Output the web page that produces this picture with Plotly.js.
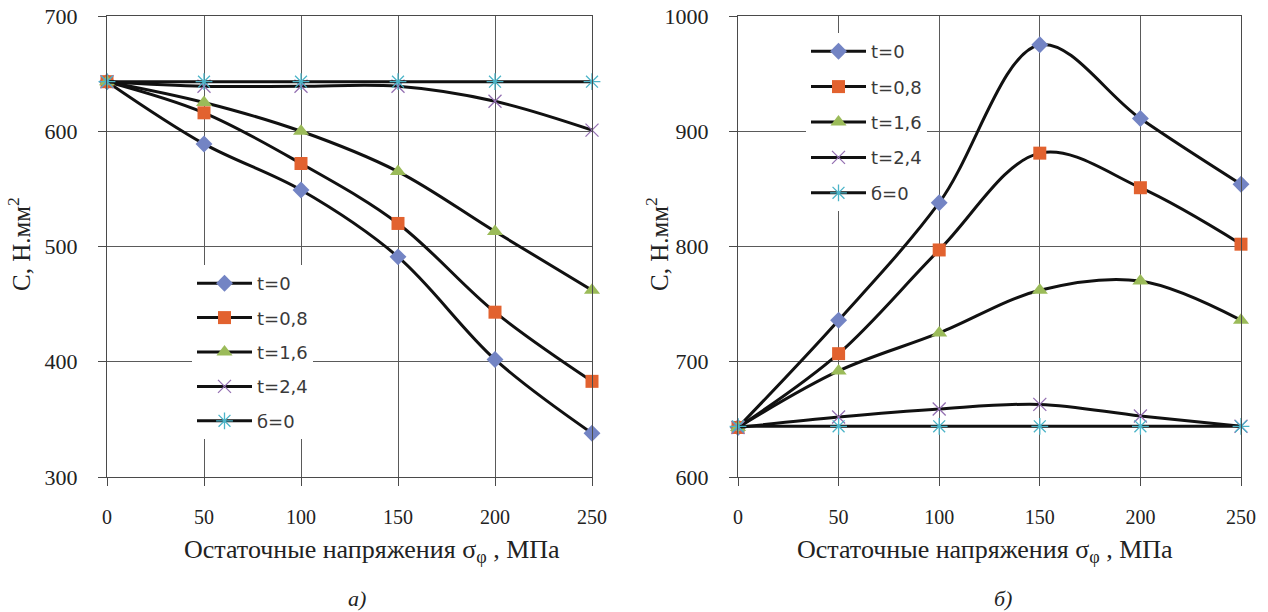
<!DOCTYPE html>
<html>
<head>
<meta charset="utf-8">
<script src="https://cdn.plot.ly/plotly-3.0.1.min.js"></script>
<style>html,body{margin:0;padding:0;background:#fff;}#chart{width:1268px;height:612px;}</style>
</head>
<body>
<div id="chart"></div>
<script>
// ---- data ----
const sigma = [0, 50, 100, 150, 200, 250];
const seriesNames = ["t=0", "t=0,8", "t=1,6", "t=2,4", "б=0"];

// panel а)
const a_t0  = [643, 589, 549, 491, 402, 338];
const a_t08 = [643, 616, 572, 520, 443, 383];
const a_t16 = [643, 625, 600, 565, 513, 462];
const a_t24 = [643, 639, 639, 639, 626, 601];
const a_s0  = [643, 643, 643, 643, 643, 643];

// panel б)
const b_t0  = [643, 736, 838, 975, 911, 854];
const b_t08 = [643, 707, 797, 881, 851, 802];
const b_t16 = [643, 692, 725, 762, 770, 736];
const b_t24 = [643, 652, 659, 663, 653, 644];
const b_s0  = [644, 644, 644, 644, 644, 644];

const yTicksA = [300, 400, 500, 600, 700];
const yTicksB = [600, 700, 800, 900, 1000];
const xTicks = [0, 50, 100, 150, 200, 250];

// ---- styles ----
const markerStyles = [
  {symbol: "diamond", size: 13, color: "#7384C4", line: {width: 0}},
  {symbol: "square", size: 13, color: "#E2622F", line: {width: 0}},
  {symbol: "triangle-up", size: 14, color: "#9BBB59", line: {width: 0}},
  {symbol: "x-thin-open", size: 13, color: "#9470B2", line: {width: 1.3, color: "#9470B2"}},
  {symbol: "asterisk-open", size: 14, color: "#4BB4C8", line: {width: 1.3, color: "#4BB4C8"}}
];

function mk(y, i, xa, ya, leg, grp) {
  return {
    x: sigma, y: y, xaxis: xa, yaxis: ya,
    type: "scatter", mode: "lines+markers", cliponaxis: false,
    name: seriesNames[i],
    legend: leg, legendgroup: grp + i,
    line: {color: "#111", width: 3, shape: "spline", smoothing: 1},
    marker: markerStyles[i]
  };
}

const dataA = [a_t0, a_t08, a_t16, a_t24, a_s0];
const dataB = [b_t0, b_t08, b_t16, b_t24, b_s0];
const traces = [];
dataA.forEach((y, i) => traces.push(mk(y, i, "x", "y", "legend", "a")));
dataB.forEach((y, i) => traces.push(mk(y, i, "x2", "y2", "legend2", "b")));

const W = 1268, T = 16, B = 135, H = 612;
const ph = H - T - B;
const px = v => v / W;
const py = v => (H - B - v) / ph;

const serif = "Liberation Serif, Times New Roman, serif";
const axisCommon = {
  showgrid: true, gridcolor: "#5a5a5a", gridwidth: 1,
  showline: true, mirror: true, linecolor: "#4a4a4a", linewidth: 1,
  ticks: "outside", ticklen: 8, tickcolor: "#4a4a4a", tickwidth: 1,
  zeroline: false, fixedrange: true
};

const layout = {
  width: W, height: H,
  margin: {l: 0, r: 0, t: T, b: B},
  paper_bgcolor: "#fff", plot_bgcolor: "#fff",
  showlegend: true,
  xaxis: Object.assign({}, axisCommon, {
    domain: [px(107), px(592)], range: [0, 250], tickvals: xTicks,
    tickfont: {family: serif, size: 20, color: "#222"}, ticklabelstandoff: 14, anchor: "y"
  }),
  yaxis: Object.assign({}, axisCommon, {
    domain: [0, 1], range: [300, 700], tickvals: yTicksA,
    tickfont: {family: serif, size: 22, color: "#222"}, ticklabelstandoff: 16, anchor: "x"
  }),
  xaxis2: Object.assign({}, axisCommon, {
    domain: [px(738), px(1241)], range: [0, 250], tickvals: xTicks,
    tickfont: {family: serif, size: 20, color: "#222"}, ticklabelstandoff: 14, anchor: "y2"
  }),
  yaxis2: Object.assign({}, axisCommon, {
    domain: [0, 1], range: [600, 1000], tickvals: yTicksB,
    tickfont: {family: serif, size: 22, color: "#222"}, ticklabelstandoff: 16, anchor: "x2"
  }),
  legend: {
    x: px(192), y: py(265), xanchor: "left", yanchor: "top",
    bgcolor: "#fff", borderwidth: 0, itemwidth: 55,
    traceorder: "grouped", tracegroupgap: 8,
    font: {family: "DejaVu Sans", size: 18, color: "#3a3a3a"}
  },
  legend2: {
    x: px(806), y: py(33), xanchor: "left", yanchor: "top",
    bgcolor: "#fff", borderwidth: 0, itemwidth: 55,
    traceorder: "grouped", tracegroupgap: 9,
    font: {family: "DejaVu Sans", size: 18, color: "#3a3a3a"}
  },
  annotations: [
    {text: "Остаточные напряжения σ<sub>φ</sub> , МПа", xref: "paper", yref: "paper",
     x: px(372), y: py(551), xanchor: "center", yanchor: "middle", showarrow: false,
     font: {family: serif, size: 26, color: "#222"}},
    {text: "Остаточные напряжения σ<sub>φ</sub> , МПа", xref: "paper", yref: "paper",
     x: px(985), y: py(551), xanchor: "center", yanchor: "middle", showarrow: false,
     font: {family: serif, size: 26, color: "#222"}},
    {text: "С, Н.мм<sup>2</sup>", xref: "paper", yref: "paper", textangle: -90,
     x: px(19), y: py(244), xanchor: "center", yanchor: "middle", showarrow: false,
     font: {family: serif, size: 25, color: "#222"}},
    {text: "С, Н.мм<sup>2</sup>", xref: "paper", yref: "paper", textangle: -90,
     x: px(657), y: py(244), xanchor: "center", yanchor: "middle", showarrow: false,
     font: {family: serif, size: 25, color: "#222"}},
    {text: "<i>а)</i>", xref: "paper", yref: "paper",
     x: px(357), y: py(598), xanchor: "center", yanchor: "middle", showarrow: false,
     font: {family: serif, size: 22, color: "#222"}},
    {text: "<i>б)</i>", xref: "paper", yref: "paper",
     x: px(1003), y: py(598), xanchor: "center", yanchor: "middle", showarrow: false,
     font: {family: serif, size: 22, color: "#222"}}
  ]
};

Plotly.newPlot("chart", traces, layout, {displayModeBar: false, staticPlot: true});
</script>
</body>
</html>
